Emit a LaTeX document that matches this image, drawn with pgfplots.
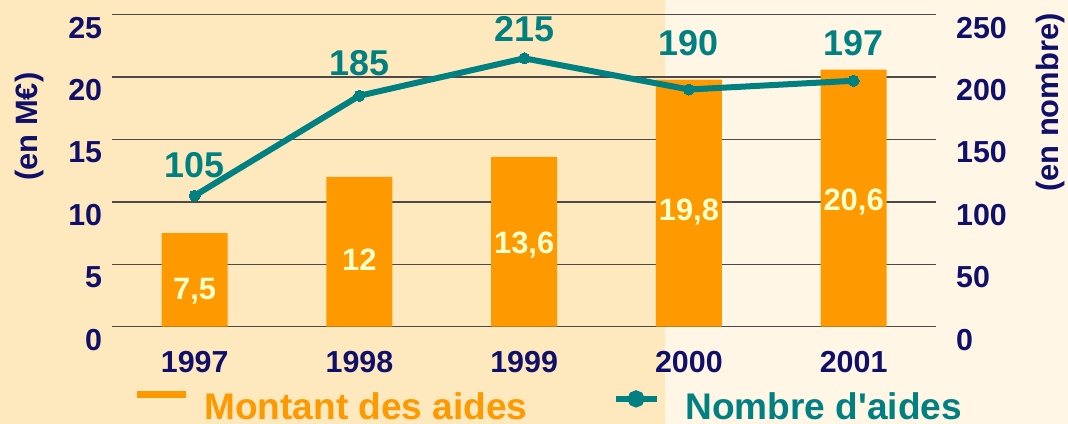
\documentclass[border=0pt]{standalone}
\usepackage{fontspec}
\setmainfont{Liberation Sans}[Ligatures=TeXOff]
\usepackage{pgfplots}
\pgfplotsset{compat=1.18}
\definecolor{bgleft}{HTML}{FEE9BF}
\definecolor{bgright}{HTML}{FFF6E6}
\definecolor{barorange}{HTML}{FF9900}
\definecolor{tealc}{HTML}{008080}
\definecolor{navy}{HTML}{10106B}
\definecolor{labyellow}{HTML}{FFFFCC}
\definecolor{gridc}{HTML}{4A4A4A}
\begin{document}
\begin{tikzpicture}
\fill[bgleft] (0,0) rectangle (665bp,424bp);
\fill[bgright] (665bp,0) rectangle (1068bp,424bp);
\pgfplotsset{
  base/.style={
    scale only axis,
    width=823.7bp, height=312.1bp,
    at={(112.3bp,97.3bp)}, anchor=south west,
    xmin=-0.5, xmax=4.5,
    axis line style={draw=none},
    major tick length=0pt,
    clip=false,
    tick label style={font=\bfseries\fontsize{30.5}{34}\selectfont, text=navy, inner sep=0pt},
    /pgf/number format/assume math mode=true,
  }
}
\begin{axis}[base,
  ymin=0, ymax=25, ytick={0,5,...,25},
  xtick={0,1,2,3,4}, xticklabels={1997,1998,1999,2000,2001},
  xticklabel style={anchor=north, yshift=-24bp},
  yticklabel style={anchor=east, xshift=-10bp, yshift=-13bp},
  ymajorgrids, grid style={gridc, line width=1.3bp},
  every axis y label/.style={at={(axis description cs:-0.101,0.641)}, rotate=90, anchor=center},
  ylabel={(en M€)},
  ylabel style={font=\bfseries\fontsize{31}{34}\selectfont, text=navy, inner sep=0pt},
]
\addplot[ybar, bar width=66bp, fill=barorange, draw=none] coordinates {(0,7.5) (1,12) (2,13.6) (3,19.8) (4,20.6)};
\begin{scope}[every node/.style={font=\bfseries\fontsize{31}{34}\selectfont, text=labyellow, anchor=center, inner sep=0pt}]
\node at (axis cs:0,2.8) {7,5};
\node at (axis cs:1,5.37) {12};
\node at (axis cs:2,6.57) {13,6};
\node at (axis cs:3,9.2) {19,8};
\node at (axis cs:4,9.94) {20,6};
\end{scope}
\end{axis}
\begin{axis}[base,
  ymin=0, ymax=250, ytick={0,50,...,250},
  axis x line=none, axis y line*=right,
  yticklabel style={anchor=west, xshift=20bp, yshift=-13bp},
  every axis y label/.style={at={(axis description cs:1.1387,0.718)}, rotate=90, anchor=center},
  ylabel={(en nombre)},
  ylabel style={font=\bfseries\fontsize{31}{34}\selectfont, text=navy, inner sep=0pt},
  legend columns=2,
  legend style={at={(axis description cs:0.0252,-0.304)}, anchor=south west, draw=none, fill=none, inner sep=0pt,
    nodes={inner sep=0pt, anchor=base},
    font=\bfseries\fontsize{37.2}{40}\selectfont,
    /tikz/every odd column/.append style={column sep=15bp},
    /tikz/every even column/.append style={column sep=85bp}},
]
\addlegendimage{legend image code/.code={\draw[line width=7bp, barorange] (0bp,25bp) -- (49bp,25bp);}}
\addlegendentry{\textcolor{barorange}{Montant des aides}}
\addplot[tealc, line width=6bp, mark=*, mark size=5.5bp, mark options={fill=tealc, draw=tealc, line width=0pt},
  legend image code/.code={\draw[line width=6bp, tealc] (0bp,21bp) -- (41bp,21bp); \fill[tealc] (20.5bp,21bp) circle (5.5bp); \path (52bp,21bp);}]
  coordinates {(0,105) (1,185) (2,215) (3,190) (4,197)};
\addlegendentry{\textcolor{tealc}{Nombre d'aides}}
\begin{scope}[every node/.style={font=\bfseries\fontsize{36}{40}\selectfont, text=tealc, anchor=center, inner sep=0pt}]
\node at (axis cs:0,129.8) {105};
\node at (axis cs:1,211.5) {185};
\node at (axis cs:2,238) {215};
\node at (axis cs:3,226.8) {190};
\node at (axis cs:4,226.8) {197};
\end{scope}
\end{axis}
\pgfresetboundingbox
\useasboundingbox (0,0) rectangle (1068bp,424bp);
\end{tikzpicture}
\end{document}
